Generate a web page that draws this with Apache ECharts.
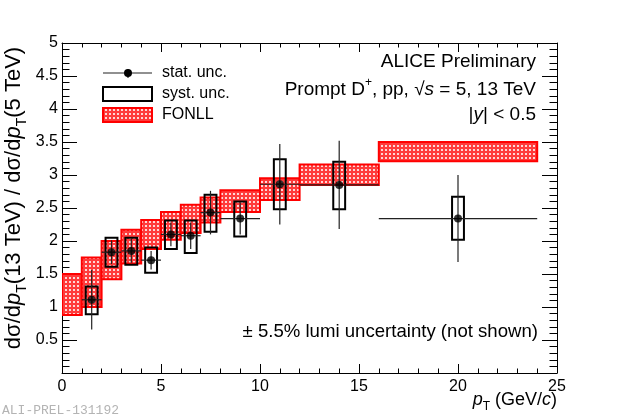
<!DOCTYPE html>
<html>
<head>
<meta charset="utf-8">
<title>D+ ratio 13/5 TeV</title>
<script src="https://cdn.jsdelivr.net/npm/echarts@6/dist/echarts.min.js"></script>
<style>
    html, body { margin: 0; padding: 0; background: #fff; }
    #chart { width: 620px; height: 420px; }
</style>
</head>
<body>
<div id="chart"></div>
<script>
// measured points (pT bins, ratio 13 TeV / 5 TeV)
var ptLow = [1, 2, 3, 4, 5, 6, 7, 8, 10, 12, 16];
var ptHigh = [2, 3, 4, 5, 6, 7, 8, 10, 12, 16, 24];
var ptCenter = [1.5, 2.5, 3.5, 4.5, 5.5, 6.5, 7.5, 9, 11, 14, 20];
var ratio = [1.11, 1.83, 1.85, 1.71, 2.10, 2.08, 2.43, 2.34, 2.86, 2.85, 2.34];
var statErr = [0.45, 0.18, 0.18, 0.14, 0.18, 0.20, 0.33, 0.24, 0.61, 0.67, 0.66];
var systLow = [0.89, 1.61, 1.64, 1.52, 1.88, 1.82, 2.14, 2.07, 2.48, 2.48, 2.02];
var systHigh = [1.31, 2.05, 2.05, 1.90, 2.31, 2.31, 2.70, 2.60, 3.24, 3.20, 2.67];
var systHalfWidth = 0.3;

// FONLL band
var fonllLow = [0, 1, 2, 3, 4, 5, 6, 7, 8, 10, 12, 16];
var fonllHigh = [1, 2, 3, 4, 5, 6, 7, 8, 10, 12, 16, 24];
var fonllMin = [0.88, 1.00, 1.42, 1.66, 1.88, 2.02, 2.12, 2.28, 2.44, 2.62, 2.85, 3.21];
var fonllMax = [1.50, 1.75, 2.00, 2.17, 2.32, 2.44, 2.55, 2.66, 2.77, 2.95, 3.16, 3.50];

var FONT = 'Liberation Sans, Arial, Helvetica, sans-serif';

// little red hatch tile for FONLL
var tile = document.createElement('canvas');
tile.width = 4;
tile.height = 4;
var tctx = tile.getContext('2d');
tctx.fillStyle = '#ff3b3b';
tctx.fillRect(0, 0, 4, 4);
tctx.fillStyle = '#ffd6d6';
tctx.fillRect(1, 1, 2, 2);
var hatch = { image: tile, repeat: 'repeat' };

var fonllData = [];
for (var i = 0; i < fonllLow.length; i++) {
    fonllData.push([fonllLow[i], fonllHigh[i], fonllMin[i], fonllMax[i]]);
}
var systData = [];
var statData = [];
var pointData = [];
for (var j = 0; j < ptCenter.length; j++) {
    systData.push([ptCenter[j] - systHalfWidth, ptCenter[j] + systHalfWidth, systLow[j], systHigh[j]]);
    statData.push([ptLow[j], ptHigh[j], ptCenter[j], ratio[j], ratio[j] - statErr[j], ratio[j] + statErr[j]]);
    pointData.push([ptCenter[j], ratio[j]]);
}

function boxItem(fill, stroke, lw) {
    return function (params, api) {
        var p1 = api.coord([api.value(0), api.value(3)]);
        var p2 = api.coord([api.value(1), api.value(2)]);
        return {
            type: 'rect',
            shape: { x: p1[0], y: p1[1], width: p2[0] - p1[0], height: p2[1] - p1[1] },
            style: { fill: fill, stroke: stroke, lineWidth: lw }
        };
    };
}

function richFor(size) {
    return {
        it: { fontStyle: 'italic', fontSize: size, fontFamily: FONT, fill: '#000' },
        sub: { fontSize: Math.round(size * 0.65), lineHeight: 12, verticalAlign: 'bottom', fontFamily: FONT, fill: '#000' },
        sup: { fontSize: Math.round(size * 0.65), lineHeight: 12, verticalAlign: 'top', fontFamily: FONT, fill: '#000' }
    };
}

function label(x, y, text, size, align, extra) {
    var o = {
        type: 'text', x: x, y: y, silent: true,
        style: {
            text: text, fill: '#000', align: align, verticalAlign: 'middle',
            font: size + 'px ' + FONT, lineHeight: size + 8, rich: richFor(size)
        }
    };
    if (extra) { for (var k in extra) o[k] = extra[k]; }
    return o;
}

var axisCommon = {
    type: 'value',
    axisLine: { show: true, onZero: false, lineStyle: { color: '#000', width: 1 } },
    splitLine: { show: false }
};

var myChart = echarts.init(document.getElementById('chart'));
var option = {
    animation: false,
    backgroundColor: '#fff',
    grid: { left: 62, right: 63, top: 43, bottom: 47, containLabel: false },
    xAxis: [
        Object.assign({}, axisCommon, {
            min: 0, max: 25, interval: 5, position: 'bottom',
            axisTick: { inside: true, length: 9, lineStyle: { color: '#000' } },
            minorTick: { show: true, splitNumber: 5, length: 4.5, lineStyle: { color: '#000' } },
            axisLabel: { color: '#000', fontSize: 16, fontFamily: FONT, margin: 6 }
        }),
        Object.assign({}, axisCommon, {
            min: 0, max: 25, interval: 5, position: 'top',
            axisTick: { inside: true, length: 9, lineStyle: { color: '#000' } },
            minorTick: { show: true, splitNumber: 5, length: 4.5, lineStyle: { color: '#000' } },
            axisLabel: { show: false }
        })
    ],
    yAxis: [
        Object.assign({}, axisCommon, {
            min: 0, max: 5, interval: 0.5, position: 'left',
            axisTick: { inside: true, length: 15, lineStyle: { color: '#000' } },
            minorTick: { show: true, splitNumber: 5, length: 7.5, lineStyle: { color: '#000' } },
            axisLabel: {
                color: '#000', fontSize: 16, fontFamily: FONT, margin: 4,
                formatter: function (v) { return v === 0 ? '' : String(v); }
            }
        }),
        Object.assign({}, axisCommon, {
            min: 0, max: 5, interval: 0.5, position: 'right',
            axisTick: { inside: true, length: 15, lineStyle: { color: '#000' } },
            minorTick: { show: true, splitNumber: 5, length: 7.5, lineStyle: { color: '#000' } },
            axisLabel: { show: false }
        })
    ],
    series: [
        {
            name: 'FONLL', type: 'custom', clip: true, z: 2,
            renderItem: boxItem(hatch, '#ff0000', 2),
            encode: { x: [0, 1], y: [2, 3] },
            data: fonllData
        },
        {
            name: 'syst. unc.', type: 'custom', clip: true, z: 3,
            renderItem: boxItem('none', '#000', 2),
            encode: { x: [0, 1], y: [2, 3] },
            data: systData
        },
        {
            name: 'stat. unc.', type: 'custom', clip: true, z: 4,
            renderItem: function (params, api) {
                var a = api.coord([api.value(0), api.value(3)]);
                var b = api.coord([api.value(1), api.value(3)]);
                var c = api.coord([api.value(2), api.value(4)]);
                var d = api.coord([api.value(2), api.value(5)]);
                var st = { stroke: '#222', lineWidth: 1.2 };
                return {
                    type: 'group',
                    children: [
                        { type: 'line', shape: { x1: a[0], y1: a[1], x2: b[0], y2: b[1] }, style: st },
                        { type: 'line', shape: { x1: c[0], y1: c[1], x2: d[0], y2: d[1] }, style: st }
                    ]
                };
            },
            encode: { x: [0, 1], y: [4, 5] },
            data: statData
        },
        {
            name: 'points', type: 'scatter', z: 5,
            symbol: 'circle', symbolSize: 8,
            itemStyle: { color: '#000' },
            data: pointData
        }
    ],
    graphic: [
        // axis titles
        label(14, 198, 'dσ/d{it|p}{sub|T}(13 TeV) / dσ/d{it|p}{sub|T}(5 TeV)', 22, 'center', { rotation: Math.PI / 2 }),
        label(557, 400, '{it|p}{sub|T} (GeV/{it|c})', 18, 'right'),
        // top-right block
        label(536, 62, 'ALICE Preliminary', 19, 'right'),
        label(536, 90, 'Prompt D{sup|+}, pp, √{it|s} = 5, 13 TeV', 19, 'right'),
        label(536, 115, '|{it|y}| < 0.5', 19, 'right'),
        label(538, 332, '± 5.5% lumi uncertainty (not shown)', 18.6, 'right'),
        // legend
        { type: 'line', silent: true, shape: { x1: 103, y1: 73, x2: 152, y2: 73 }, style: { stroke: '#222', lineWidth: 1.2 } },
        { type: 'line', silent: true, shape: { x1: 128, y1: 69, x2: 128, y2: 78 }, style: { stroke: '#222', lineWidth: 1.2 } },
        { type: 'circle', silent: true, shape: { cx: 128, cy: 73, r: 4 }, style: { fill: '#000' } },
        { type: 'rect', silent: true, shape: { x: 103, y: 87, width: 49, height: 14 }, style: { fill: 'none', stroke: '#000', lineWidth: 2 } },
        { type: 'rect', silent: true, shape: { x: 103, y: 108, width: 49, height: 14 }, style: { fill: hatch, stroke: '#ff0000', lineWidth: 2 } },
        label(162, 73, 'stat. unc.', 16, 'left'),
        label(162, 94, 'syst. unc.', 16, 'left'),
        label(162, 115, 'FONLL', 16, 'left'),
        // watermark
        {
            type: 'text', x: 2, y: 411, silent: true,
            style: { text: 'ALI-PREL-131192', fill: '#b4b4b4', align: 'left', verticalAlign: 'middle',
                font: '13px Liberation Mono, Courier New, monospace' }
        }
    ]
};
myChart.setOption(option);
</script>
</body>
</html>
